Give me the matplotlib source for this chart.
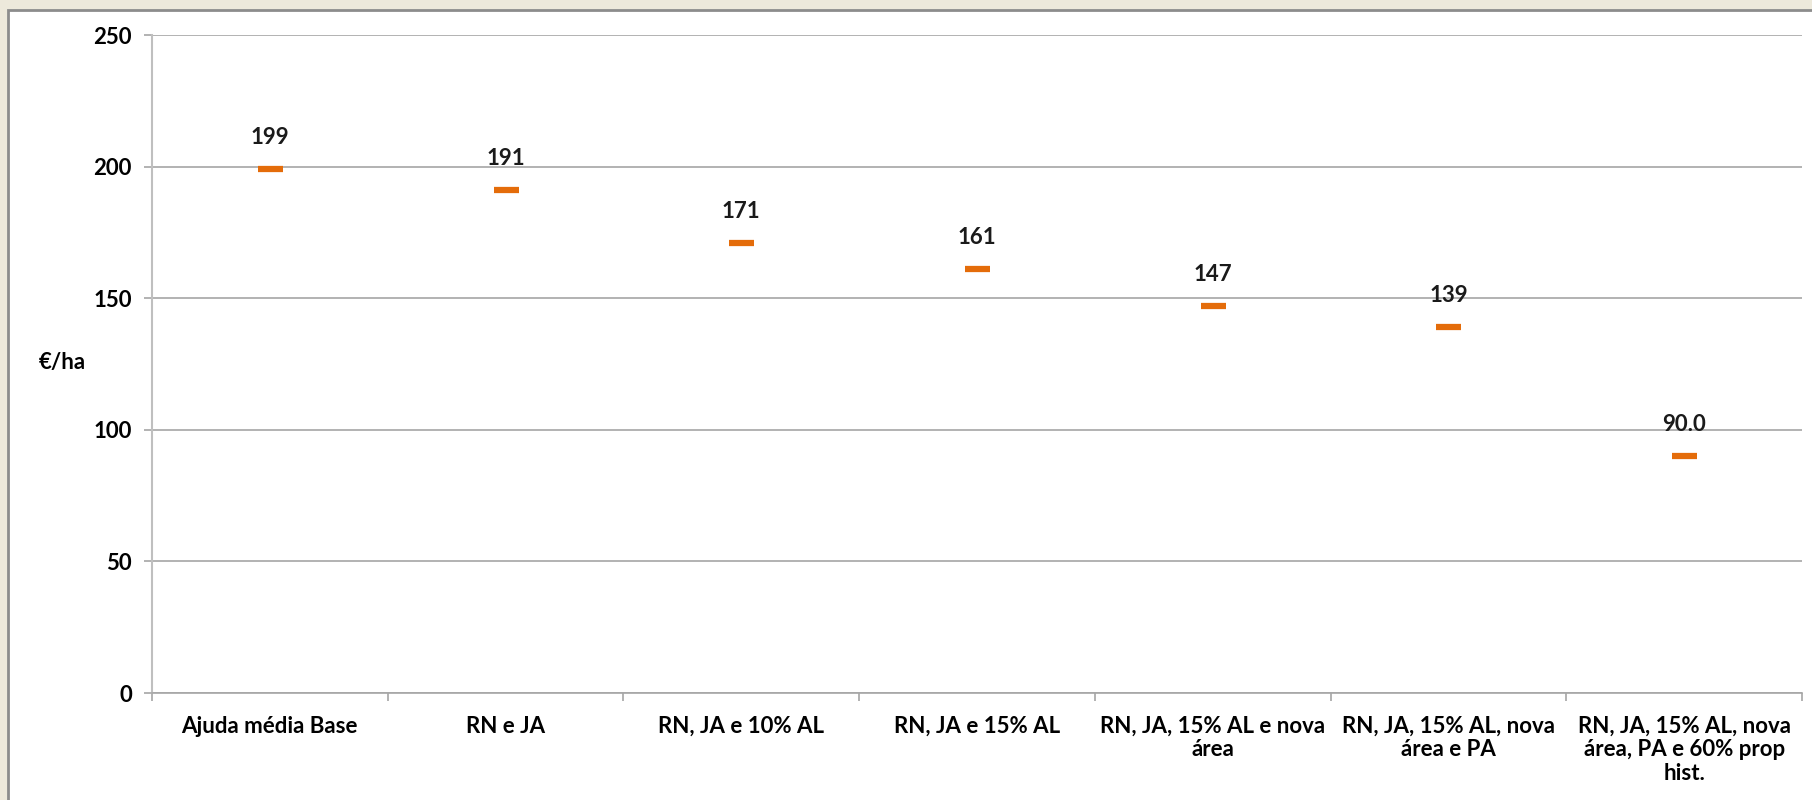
import matplotlib
matplotlib.use("Agg")
import matplotlib.pyplot as plt
from matplotlib.patches import Rectangle
import numpy as np

categories = [
    "Ajuda média Base",
    "RN e JA",
    "RN, JA e 10% AL",
    "RN, JA e 15% AL",
    "RN, JA, 15% AL e nova\nárea",
    "RN, JA, 15% AL, nova\nárea e PA",
    "RN, JA, 15% AL, nova\nárea, PA e 60% prop\nhist.",
]
values = [199, 191, 171, 161, 147, 139, 90.0]
value_labels = ["199", "191", "171", "161", "147", "139", "90.0"]
y_ticks = [0, 50, 100, 150, 200, 250]
y_label = "€/ha"

plt.rcParams['font.family'] = ['Lato', 'DejaVu Sans']
FS = 16

W, H = 1812, 800
fig = plt.figure(figsize=(W / 100, H / 100), dpi=100)
fig.patch.set_facecolor('#EDE9DB')
fig.patches.append(Rectangle((8 / W, -0.1), 1.2, 1.1 - 10 / H, transform=fig.transFigure,
                             facecolor='white', edgecolor='#8C8C8C', linewidth=2.0, zorder=-10))

ax = fig.add_axes([152 / W, 1 - 693 / H, (1802 - 152) / W, (693 - 35) / H])
ax.set_facecolor('white')

n = len(categories)
x = np.arange(n)
ax.plot(x, values, linestyle='none', marker='_', markersize=18, markeredgewidth=4.5,
        color='#E46C0A', zorder=3)
for xi, v, lab in zip(x, values, value_labels):
    ax.annotate(lab, (xi, v), xytext=(0, 15), textcoords='offset points',
                ha='center', va='bottom', fontsize=FS, fontweight='bold', color='#1a1a1a')

ax.set_xlim(-0.5, n - 0.5)
ax.set_ylim(0, 250)
ax.set_yticks(y_ticks)
ax.set_yticklabels([str(t) for t in y_ticks], fontsize=FS, fontweight='bold')
ax.yaxis.grid(True, color='#A6A6A6', linewidth=1.2)
ax.set_axisbelow(True)

ax.set_xticks(np.arange(-0.5, n, 1.0))
ax.set_xticklabels([])
ax.set_xticks(x, minor=True)
ax.set_xticklabels(categories, minor=True, fontsize=FS, fontweight='bold',
                   linespacing=1.15, va='top')
ax.tick_params(axis='x', which='minor', length=0, pad=16.5)
ax.tick_params(axis='x', which='major', length=6, color='#A6A6A6', width=1.2)
ax.tick_params(axis='y', length=5.5, color='#A6A6A6', width=1.2, pad=9)

for s in ['top', 'right']:
    ax.spines[s].set_visible(False)
ax.spines['left'].set_color('#BFBFBF')
ax.spines['left'].set_linewidth(1.5)
ax.spines['bottom'].set_color('#A6A6A6')
ax.spines['bottom'].set_linewidth(1.2)

fig.text(62 / W, 1 - 363 / H, y_label, ha='center', va='center', fontsize=FS, fontweight='bold')

fig.savefig("out.png", dpi=100, facecolor=fig.get_facecolor())
